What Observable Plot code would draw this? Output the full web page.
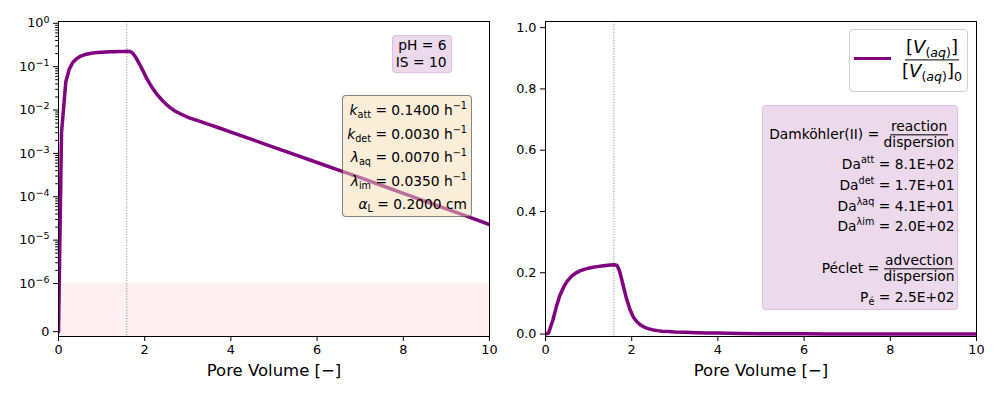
<!DOCTYPE html>
<html><head><meta charset="utf-8">
<script src="https://cdn.jsdelivr.net/npm/d3@7"></script>
<script src="https://cdn.jsdelivr.net/npm/@observablehq/plot@0.6"></script>
<style>
body{margin:0;background:#fff;}
#fig{position:relative;width:1000px;height:400px;font-family:"DejaVu Sans",sans-serif;color:#000;overflow:hidden;}
.panel{position:absolute;top:0;}
.box{position:absolute;box-sizing:border-box;border-radius:4px;}
.ln{position:absolute;white-space:nowrap;font-size:13.8px;line-height:16px;transform:translateY(-50%);text-align:right;}
.sb{font-size:70%;vertical-align:-0.3em;line-height:0;}
.sp{font-size:70%;vertical-align:0.6em;line-height:0;}
.frac{display:inline-flex;flex-direction:column;align-items:center;vertical-align:middle;line-height:1.1;}
.frac .num{border-bottom:1px solid #000;padding:0 1px;}
.lgd .frac{line-height:1.2;}
.lgd .frac .num{padding:0 1px 1px;}
</style></head>
<body>
<div id="fig">
  <div id="left" class="panel" style="left:0"></div>
  <div id="right" class="panel" style="left:500px"></div>
</div>
<script>
// ---------------- data ----------------
const pv = [0, 0.07, 0.17, 0.25, 0.33, 0.42, 0.5, 0.6, 0.7, 0.8, 0.9, 1.0, 1.1, 1.2, 1.3, 1.4, 1.5, 1.6, 1.66, 1.72, 1.8, 1.88, 1.96, 2.04, 2.12, 2.2, 2.3, 2.4, 2.5, 2.6, 2.7, 2.85, 3.0, 3.25, 3.5, 3.75, 4.0, 4.5, 5.0, 5.5, 6.0, 6.5, 7.0, 7.5, 8.0, 8.5, 9.0, 9.5, 10.0];
const conc = [0, 0.003, 0.045, 0.088, 0.125, 0.153, 0.172, 0.188, 0.199, 0.206, 0.211, 0.215, 0.218, 0.220, 0.222, 0.224, 0.225, 0.226, 0.224, 0.205, 0.16, 0.115, 0.08, 0.055, 0.04, 0.030, 0.022, 0.017, 0.0135, 0.0112, 0.0095, 0.0080, 0.0068, 0.0056, 0.0046, 0.0038, 0.0031, 0.00207, 0.00138, 0.000923, 0.000617, 0.000412, 0.000275, 0.000182, 0.000120, 0.0000794, 0.0000525, 0.0000347, 0.0000229];
const pulseEnd = [1.585];
const detectionLimit = 1e-6;
const xDomain = [0, 10];
const xTicks = [0, 2, 4, 6, 8, 10];
const leftYLimits = [-1e-7, 1.1];
const leftMajorTicks = [0, 1e-6, 1e-5, 1e-4, 1e-3, 1e-2, 1e-1, 1];
const leftMajorLabels = ["0", "10⁻⁶", "10⁻⁵", "10⁻⁴", "10⁻³", "10⁻²", "10⁻¹", "10⁰"];
const rightYLimits = [-0.008, 1.02];
const rightYTicks = [0, 0.2, 0.4, 0.6, 0.8, 1.0];
const xLabel = "Pore Volume [−]";
const conditionLines = ["pH = 6", "IS = 10"];
const paramLines = [
  '<i>k</i><span class="sb">att</span> = 0.1400 h<span class="sp">−1</span>',
  '<i>k</i><span class="sb">det</span> = 0.0030 h<span class="sp">−1</span>',
  '<i>λ</i><span class="sb">aq</span> = 0.0070 h<span class="sp">−1</span>',
  '<i>λ</i><span class="sb">im</span> = 0.0350 h<span class="sp">−1</span>',
  '<i>α</i><span class="sb">L</span> = 0.2000 cm'
];
const dimLines = [
  'Damköhler(II) = <span class="frac"><span class="num">reaction</span><span>dispersion</span></span>',
  'Da<span class="sp">att</span> = 8.1E+02',
  'Da<span class="sp">det</span> = 1.7E+01',
  'Da<span class="sp">λaq</span> = 4.1E+01',
  'Da<span class="sp">λim</span> = 2.0E+02',
  'Péclet = <span class="frac"><span class="num">advection</span><span>dispersion</span></span>',
  'P<span class="sb">é</span> = 2.5E+02'
];
const legendLabel = '<span class="frac"><span class="num">[<i>V</i><span class="sb">(<i>aq</i>)</span>]</span><span>[<i>V</i><span class="sb">(<i>aq</i>)</span>]<span class="sb">0</span></span></span>';

// ---------------- chart ----------------
const table = pv.map((x, i) => ({pv: x, conc: conc[i]}));
const LT = 1e-6, LS = 1 / (1 - 1 / 10);
const symlog = v => { const a = Math.abs(v); return Math.sign(v) * (a <= LT ? a / LT * LS : LS + Math.log10(a / LT)); };
const minorTicks = [];
for (let k = -6; k <= -1; k++) for (let m = 2; m <= 9; m++) minorTicks.push(m * Math.pow(10, k));
// axis ticks live in the scale's transformed space
const majorPos = leftMajorTicks.map(symlog);
const minorPos = minorTicks.map(symlog);
const majorLabel = d => leftMajorLabels[majorPos.findIndex(p => Math.abs(p - d) < 1e-9)];

const purple = "purple";
const common = {
  width: 500, height: 400, marginTop: 21, marginBottom: 64,
  style: {fontFamily: "DejaVu Sans", fontSize: "12.8px", color: "black", background: "transparent", overflow: "visible"}
};

const leftChart = Plot.plot({
  ...common, marginLeft: 58, marginRight: 11,
  x: {domain: xDomain, label: null},
  y: {transform: symlog, domain: leftYLimits.map(symlog), label: null},
  marks: [
    Plot.rect([0], {x1: xDomain[0], x2: xDomain[1], y1: leftYLimits[0], y2: detectionLimit, fill: "#fdeff2"}),
    Plot.ruleX(pulseEnd, {stroke: "#777", strokeWidth: 0.9, strokeDasharray: "1,1.7"}),
    Plot.line(table, {x: "pv", y: "conc", stroke: purple, strokeWidth: 3.5, strokeLinejoin: "round", clip: true}),
    Plot.frame({stroke: "black", strokeWidth: 1}),
    Plot.axisX({ticks: xTicks, tickSize: 5, tickPadding: 3, label: null, tickFormat: d => String(d)}),
    Plot.axisY({ticks: minorPos, tickSize: 2.8, tickFormat: () => "", label: null}),
    Plot.axisY({ticks: majorPos, tickSize: 5, tickPadding: 4, label: null, tickFormat: majorLabel}),
    Plot.text([xLabel], {frameAnchor: "bottom", dy: 39, fontSize: 16.5})
  ]
});
// render the exponent of the log tick labels as a raised tspan (like mathtext)
const supMap = {"⁰": "0", "¹": "1", "²": "2", "³": "3", "⁴": "4", "⁵": "5", "⁶": "6", "⁻": "−"};
d3.select(leftChart).selectAll("text").each(function () {
  const s = this.textContent;
  if (!/^10[⁰¹²³⁴⁵⁶⁻]+$/.test(s)) return;
  const exp = Array.from(s.slice(2), c => supMap[c]).join("");
  const t = d3.select(this);
  t.text("10");
  t.append("tspan").attr("dy", "-0.5em").attr("font-size", "9.5px").text(exp);
});
document.getElementById("left").append(leftChart);

const rightChart = Plot.plot({
  ...common, marginLeft: 45, marginRight: 24,
  x: {domain: xDomain, label: null},
  y: {domain: rightYLimits, label: null},
  marks: [
    Plot.ruleX(pulseEnd, {stroke: "#777", strokeWidth: 0.9, strokeDasharray: "1,1.7"}),
    Plot.line(table, {x: "pv", y: "conc", stroke: purple, strokeWidth: 3.5, strokeLinejoin: "round", clip: true}),
    Plot.frame({stroke: "black", strokeWidth: 1}),
    Plot.axisX({ticks: xTicks, tickSize: 5, tickPadding: 3, label: null, tickFormat: d => String(d)}),
    Plot.axisY({ticks: rightYTicks, tickSize: 5, tickPadding: 4, label: null, tickFormat: d3.format(".1f")}),
    Plot.text([xLabel], {frameAnchor: "bottom", dy: 39, fontSize: 16.5})
  ]
});
document.getElementById("right").append(rightChart);

// ---------------- annotations ----------------
const fig = document.getElementById("fig");
function addBox(l, t, w, h, bg, border) {
  const d = document.createElement("div");
  d.className = "box";
  Object.assign(d.style, {left: l + "px", top: t + "px", width: w + "px", height: h + "px", background: bg, border: "1px solid " + border});
  fig.append(d);
}
function addLine(html, rightEdge, cy, size) {
  const d = document.createElement("div");
  d.className = "ln";
  d.innerHTML = html;
  d.style.right = (1000 - rightEdge) + "px";
  d.style.top = cy + "px";
  if (size) d.style.fontSize = size + "px";
  fig.append(d);
}
const thistleBg = "rgba(128,0,128,0.15)";
// pH / IS box
addBox(392, 35, 60, 38, thistleBg, "rgba(128,0,128,0.12)");
[45, 61.5].forEach((cy, i) => addLine(conditionLines[i], 446.5, cy));
// parameter box
addBox(342, 95, 130, 122, "rgba(245,222,179,0.5)", "rgba(0,0,0,0.45)");
[110, 133.5, 157, 181, 204].forEach((cy, i) => addLine(paramLines[i], 467, cy));
// legend
addBox(849, 29, 119, 63, "rgba(255,255,255,0.8)", "#d0d0d0");
const sw = document.createElement("div");
Object.assign(sw.style, {position: "absolute", left: "854px", top: "56.5px", width: "37px", height: "3.5px", background: purple});
fig.append(sw);
const lg = document.createElement("div");
lg.className = "ln lgd";
lg.innerHTML = legendLabel;
Object.assign(lg.style, {left: "932px", top: "59px", fontSize: "18px", transform: "translate(-50%,-50%)"});
fig.append(lg);
// dimensionless numbers box
addBox(762, 105, 196, 205, thistleBg, "rgba(128,0,128,0.12)");
[135, 164, 184.5, 205.5, 226, 269, 297].forEach((cy, i) => addLine(dimLines[i], 954.5, cy));
</script>
</body></html>
